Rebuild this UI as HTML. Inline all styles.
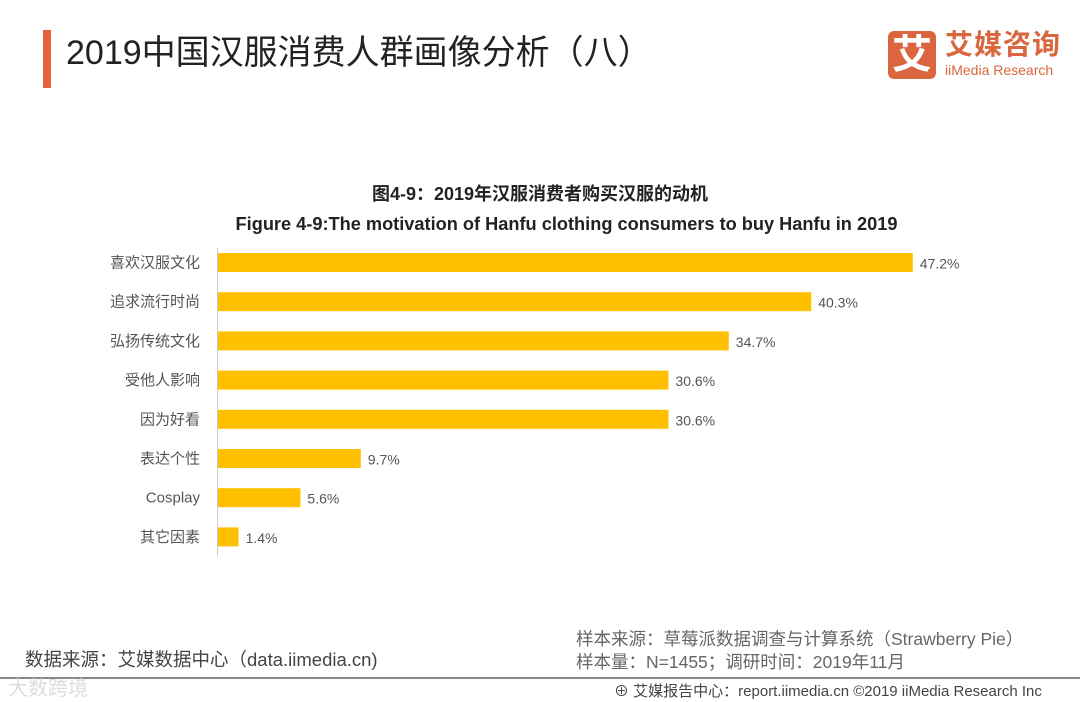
<!DOCTYPE html>
<html><head><meta charset="utf-8"><style>
body{margin:0;width:1080px;height:702px;background:#fff;font-family:"Liberation Sans","Noto Sans CJK SC",sans-serif;position:relative;overflow:hidden}
.a{position:absolute;white-space:nowrap}
</style></head><body>
<div class="a" style="left:43px;top:30px;width:8px;height:58px;background:#e8613c"></div>
<div class="a" style="left:66px;top:31px;font-size:34px;color:#222;line-height:44px">2019中国汉服消费人群画像分析（八）</div>
<div class="a" style="left:888px;top:31px;width:48px;height:48px;background:#d9663e;border-radius:6px;color:#fff;font-size:40px;line-height:48px;text-align:center;font-weight:bold">艾</div>
<div class="a" style="left:945px;top:28px;font-size:28px;color:#d9663e;font-weight:bold;line-height:34px;letter-spacing:1px">艾媒咨询</div>
<div class="a" style="left:945px;top:62px;font-size:14px;color:#d9663e;line-height:16px">iiMedia Research</div>
<div class="a" style="left:0;width:1080px;text-align:center;top:180px;font-size:18px;font-weight:bold;color:#222">图4-9：2019年汉服消费者购买汉服的动机</div>
<div class="a" style="left:0;width:1133px;text-align:center;top:214px;font-size:18.2px;font-weight:bold;color:#222">Figure 4-9:The motivation of Hanfu clothing consumers to buy Hanfu in 2019</div>
<svg class="a" style="left:0;top:0" width="1080" height="702">
<line x1="217.5" y1="248" x2="217.5" y2="556" stroke="#ccc"/>
<g id="g"></g></svg>
<div class="a" style="left:25px;top:646px;font-size:18.5px;color:#444">数据来源：艾媒数据中心（data.iimedia.cn)</div>
<div class="a" style="left:576px;top:626px;font-size:17.5px;color:#666">样本来源：草莓派数据调查与计算系统（Strawberry Pie）</div>
<div class="a" style="left:576px;top:649px;font-size:17.5px;color:#666">样本量：N=1455；调研时间：2019年11月</div>
<div class="a" style="left:0;top:677px;width:1080px;height:2px;background:#888"></div>
<div class="a" style="left:8px;top:672px;font-size:20px;color:#ddd">大数跨境</div>
<div class="a" style="left:614px;top:680px;font-size:15px;color:#444">⊕ 艾媒报告中心：report.iimedia.cn ©2019 iiMedia Research Inc</div>
<script>
const categories=["喜欢汉服文化","追求流行时尚","弘扬传统文化","受他人影响","因为好看","表达个性","Cosplay","其它因素"];
const values=[47.2,40.3,34.7,30.6,30.6,9.7,5.6,1.4];
const x=v=>218+v*14.72;
const y=i=>262.5+i*39.2;
const g=document.getElementById('g');const ns='http://www.w3.org/2000/svg';
categories.forEach((c,i)=>{
 const r=document.createElementNS(ns,'rect');
 
 
 r.setAttribute('x',218);r.setAttribute('y',y(i)-9.5);r.setAttribute('height',19);r.setAttribute('width',x(values[i])-218);r.setAttribute('fill','#ffc000');g.appendChild(r);
 const t=document.createElementNS(ns,'text');
 
 
 t.setAttribute('x',200);t.setAttribute('y',y(i)+5);t.setAttribute('text-anchor','end');t.setAttribute('font-size','15');t.setAttribute('fill','#555');t.textContent=c;g.appendChild(t);
 const l=document.createElementNS(ns,'text');
 
 
 l.setAttribute('x',x(values[i])+7);l.setAttribute('y',y(i)+6);l.setAttribute('font-size','14');l.setAttribute('fill','#555');l.textContent=values[i].toFixed(1)+'%';g.appendChild(l);
});
</script>
</body></html>
